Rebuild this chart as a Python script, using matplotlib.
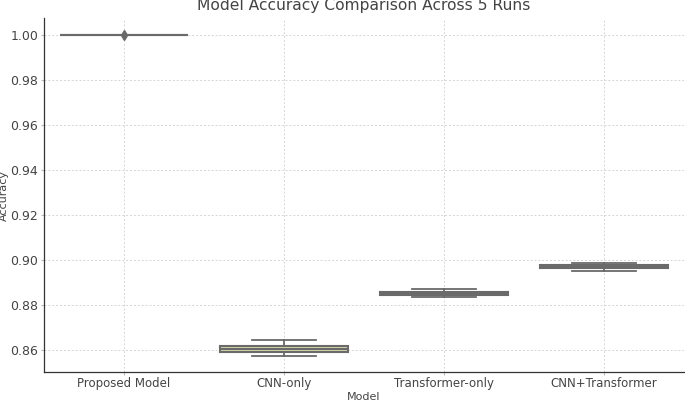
import numpy as np
import matplotlib
matplotlib.use("Agg")
import matplotlib.pyplot as plt

# accuracy of each model over 5 runs
models = ["Proposed Model", "CNN-only", "Transformer-only", "CNN+Transformer"]
proposed = [1.0, 1.0, 1.0, 1.0, 0.9999]
cnn_only = [0.8575, 0.8594, 0.8606, 0.8618, 0.8644]
transformer_only = [0.8836, 0.8847, 0.8852, 0.8858, 0.8870]
cnn_transformer = [0.8951, 0.8963, 0.8970, 0.8976, 0.8988]

box_colors = ["#a3a3a3", "#d8d8ac", "#a8a8a8", "#a8a8a8"]
line_color = "#6a6a6a"
text_color = "#444444"

data = [proposed, cnn_only, transformer_only, cnn_transformer]

fig = plt.figure(figsize=(6.85, 4.01), dpi=100)
ax = fig.add_axes([0.064, 0.0725, 0.9345, 0.8815])

bp = ax.boxplot(data, positions=np.arange(len(models)), widths=0.8,
                patch_artist=True, whis=1.5, tick_labels=models,
                boxprops=dict(edgecolor=line_color, linewidth=1.5),
                whiskerprops=dict(color=line_color, linewidth=1.3),
                capprops=dict(color=line_color, linewidth=1.3),
                medianprops=dict(color=line_color, linewidth=1.5),
                flierprops=dict(marker="d", markersize=5, markerfacecolor=line_color,
                                markeredgecolor=line_color))
for patch, c in zip(bp["boxes"], box_colors):
    patch.set_facecolor(c)

ax.set_xlim(-0.5, len(models) - 0.5)
ax.grid(True, linestyle=(0, (2, 2)), color="#d5d5d5", linewidth=0.7)
ax.set_axisbelow(True)
for side in ["top", "right"]:
    ax.spines[side].set_visible(False)
for side in ["left", "bottom"]:
    ax.spines[side].set_color("#333333")
    ax.spines[side].set_linewidth(0.9)

ax.tick_params(axis="both", colors=text_color, length=2, pad=2, color="#bbbbbb")
ax.tick_params(axis="x", labelsize=8.5)
ax.tick_params(axis="y", labelsize=9)
ax.set_title("Model Accuracy Comparison Across 5 Runs", fontsize=11.2, color=text_color, pad=6)
ax.set_xlabel("Model", fontsize=8, color=text_color, labelpad=1)
ax.set_ylabel("Accuracy", fontsize=8, color=text_color, labelpad=1)

fig.savefig("out.png", dpi=100)
